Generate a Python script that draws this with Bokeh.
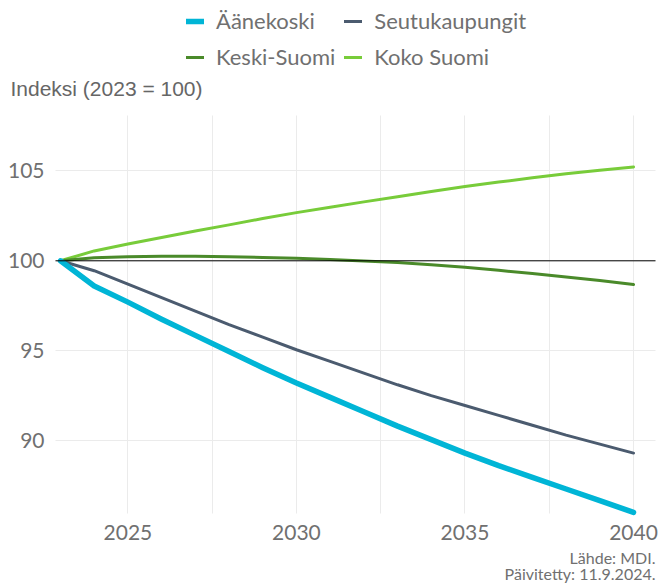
from bokeh.plotting import figure
from bokeh.models import Legend, LegendItem, Label, FixedTicker, Range1d, Grid
from bokeh.embed import file_html
from bokeh.resources import INLINE

# ---- data ----
years = list(range(2023, 2041))
aanekoski = [100.0, 98.6, 97.7, 96.75, 95.85, 94.95, 94.05, 93.2, 92.4, 91.6,
             90.8, 90.05, 89.3, 88.6, 87.95, 87.3, 86.65, 86.0]
seutukaupungit = [100.0, 99.45, 98.7, 97.95, 97.2, 96.45, 95.75, 95.05, 94.4, 93.75,
                  93.1, 92.5, 91.95, 91.4, 90.85, 90.3, 89.8, 89.3]
keski_suomi = [100.0, 100.17, 100.22, 100.25, 100.25, 100.23, 100.19, 100.14, 100.07, 99.99,
               99.9, 99.78, 99.64, 99.47, 99.29, 99.1, 98.9, 98.68]
koko_suomi = [100.0, 100.55, 100.93, 101.3, 101.66, 102.0, 102.35, 102.68, 102.98, 103.28,
              103.57, 103.86, 104.13, 104.38, 104.62, 104.85, 105.04, 105.22]

series_names = ["Äänekoski", "Seutukaupungit", "Keski-Suomi", "Koko Suomi"]
x_ticks = [2025, 2030, 2035, 2040]
x_minor_ticks = [2027.5, 2032.5, 2037.5]
y_ticks = [90, 95, 100, 105]
reference_value = 100
y_axis_title = "Indeksi (2023 = 100)"
source_lines = ["Lähde: MDI.", "Päivitetty: 11.9.2024."]

# ---- styles / layout ----
colors = {"Äänekoski": "#00b5d6", "Seutukaupungit": "#4b5b6f",
          "Keski-Suomi": "#4a8a2a", "Koko Suomi": "#78cc3a"}
widths = {"Äänekoski": 5.5, "Seutukaupungit": 3, "Keski-Suomi": 3, "Koko Suomi": 3}
FONT = "Lato"
GREY = "#707070"
GRID = "#ebebeb"

W, H = 658, 583
# whole canvas is the frame; the plotting area is a sub-box of it
PX0, PX1 = 55, 655     # plotting area, pixels from left
PY0, PY1 = 115, 513    # plotting area, pixels from top
X_AT_PX0, X_AT_PX1 = 2022.852, 2040.652
Y_AT_PY0, Y_AT_PY1 = 108.086, 85.938
sx = (X_AT_PX1 - X_AT_PX0) / (PX1 - PX0)
sy = (Y_AT_PY0 - Y_AT_PY1) / (PY1 - PY0)
x_range = Range1d(X_AT_PX0 - PX0 * sx, X_AT_PX1 + (W - PX1) * sx)
y_range = Range1d(Y_AT_PY1 - (H - PY1) * sy, Y_AT_PY0 + PY0 * sy)

p = figure(width=W, height=H, output_backend="svg", toolbar_location=None,
           x_range=x_range, y_range=y_range, min_border=0,
           min_border_left=0, min_border_right=0, min_border_top=0,
           min_border_bottom=0)
p.outline_line_color = None
p.background_fill_color = "white"
p.border_fill_color = "white"

data = {"Äänekoski": aanekoski, "Seutukaupungit": seutukaupungit,
        "Keski-Suomi": keski_suomi, "Koko Suomi": koko_suomi}

# axes fixed at the plotting-area edges
p.xaxis.fixed_location = Y_AT_PY1
p.yaxis.fixed_location = X_AT_PX0
p.xaxis.ticker = FixedTicker(ticks=x_ticks, minor_ticks=x_minor_ticks)
p.yaxis.ticker = FixedTicker(ticks=y_ticks)
for ax in (p.xaxis, p.yaxis):
    ax.axis_line_color = None
    ax.major_tick_line_color = None
    ax.minor_tick_line_color = None
    ax.major_label_text_font = FONT
    ax.major_label_text_font_size = "21px"
    ax.major_label_text_color = GREY
p.xaxis.major_label_standoff = 5
p.yaxis.major_label_standoff = 5

# grid
p.xgrid.grid_line_color = GRID
p.xgrid.minor_grid_line_color = GRID
p.ygrid.grid_line_color = GRID
if "cross_bounds" in Grid.properties():
    p.xgrid.cross_bounds = (Y_AT_PY1, Y_AT_PY0)
    p.ygrid.cross_bounds = (X_AT_PX0, X_AT_PX1)
else:
    p.xgrid.visible = False
    p.ygrid.visible = False
    gx = x_ticks + x_minor_ticks
    p.segment(x0=gx, x1=gx, y0=[Y_AT_PY1] * len(gx), y1=[Y_AT_PY0] * len(gx),
              line_color=GRID, line_width=1)
    p.segment(x0=[X_AT_PX0] * len(y_ticks), x1=[X_AT_PX1] * len(y_ticks),
              y0=y_ticks, y1=y_ticks, line_color=GRID, line_width=1)

renderers = {}
for name in ["Koko Suomi", "Keski-Suomi", "Seutukaupungit", "Äänekoski"]:
    renderers[name] = p.line(years, data[name], line_color=colors[name],
                             line_width=widths[name], line_join="round", line_cap="round")

# reference line at 100
p.segment(x0=[X_AT_PX0], x1=[X_AT_PX1], y0=[reference_value], y1=[reference_value],
          line_color="black", line_width=1)

# legend at the top (location = bottom-left corner, measured from canvas bottom)
LEG_ROW_H, LEG_SPACING = 26, 9
legend_height = 2 * LEG_ROW_H + LEG_SPACING
items = [LegendItem(label=n, renderers=[renderers[n]]) for n in series_names]
legend = Legend(items=items, orientation="horizontal", ncols=2,
                location=(186, H - 9 - legend_height), padding=0, margin=0,
                spacing=LEG_SPACING, label_standoff=12, glyph_width=18,
                glyph_height=LEG_ROW_H, label_height=LEG_ROW_H,
                label_text_font=FONT, label_text_font_size="22px",
                label_text_color=GREY, border_line_color=None,
                background_fill_alpha=0)
p.add_layout(legend, "center")

# y-axis title
p.add_layout(Label(x=10, y=H - 88, x_units="screen", y_units="screen",
                   text=y_axis_title, text_baseline="middle",
                   text_font="Liberation Sans", text_font_size="21px",
                   text_color="#666666"))

# source lines
for i, line in enumerate(source_lines):
    p.add_layout(Label(x=655, y=H - 557 - 16 * i, x_units="screen", y_units="screen",
                       text=line, text_align="right", text_baseline="alphabetic",
                       text_font=FONT, text_font_size="16px", text_color=GREY))

open("out.html", "w").write(file_html(p, INLINE))
